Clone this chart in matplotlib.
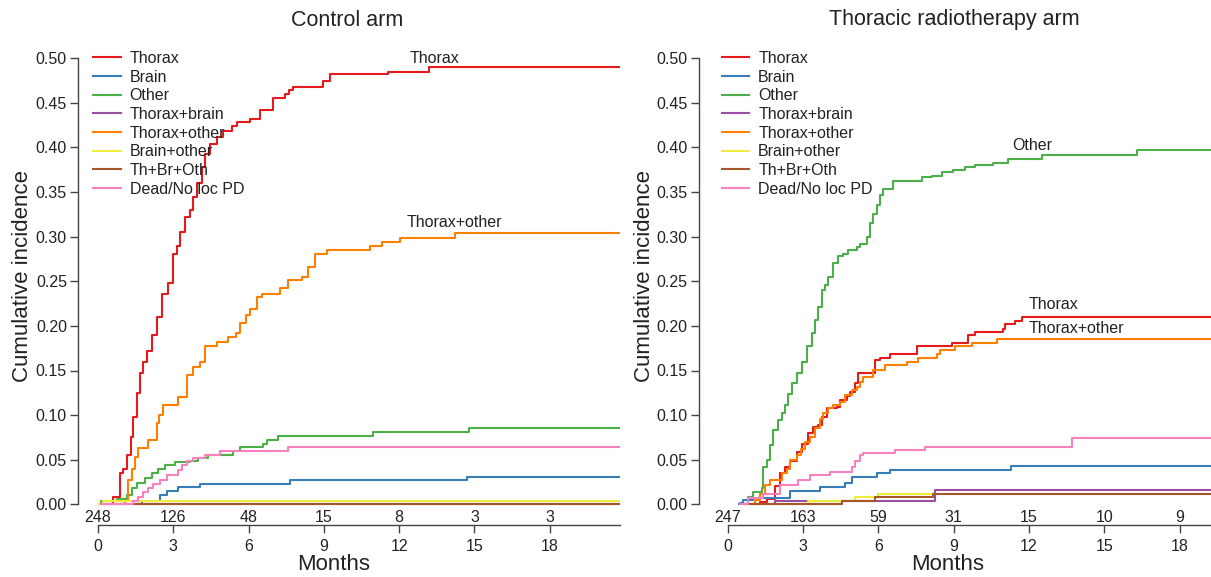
import numpy as np
import matplotlib
matplotlib.use('Agg')
import matplotlib.pyplot as plt

plt.rcParams['font.family'] = ['Liberation Sans', 'DejaVu Sans']

# ---- data (months, cumulative incidence) ----
groups = ['Thorax', 'Brain', 'Other', 'Thorax+brain', 'Thorax+other',
          'Brain+other', 'Th+Br+Oth', 'Dead/No loc PD']
colors = ['#E41A1C', '#377EB8', '#4DAF4A', '#984EA3', '#FF7F00',
          '#EDED3A', '#A65628', '#F781BF']

ctrl_end = 20.8
trt_end = 21.0

# control arm
c_thorax_t = [0.5, 0.6, 0.88, 1.0, 1.15, 1.3, 1.41, 1.55, 1.67, 1.8, 1.95, 2.14, 2.34, 2.54, 2.8, 3.0,
              3.15, 3.27, 3.47, 3.65, 3.8, 3.93, 4.13, 4.26, 4.46, 4.73, 4.99, 5.33, 5.53, 6.06, 6.45,
              6.98, 7.45, 7.6, 7.78, 8.98, 9.24, 11.57, 13.2]
c_thorax_v = [0.0, 0.008, 0.035, 0.04, 0.055, 0.075, 0.098, 0.125, 0.147, 0.16, 0.172, 0.19, 0.21,
              0.236, 0.248, 0.281, 0.29, 0.305, 0.322, 0.33, 0.344, 0.36, 0.378, 0.393, 0.404, 0.412,
              0.419, 0.424, 0.429, 0.432, 0.442, 0.455, 0.46, 0.464, 0.468, 0.475, 0.482, 0.485, 0.490]
c_brain_t = [1.6, 1.74, 2.47, 2.74, 3.2, 4.06, 7.65, 14.7]
c_brain_v = [0.0, 0.004, 0.010, 0.015, 0.019, 0.023, 0.027, 0.031]
c_other_t = [0.05, 0.1, 0.74, 1.14, 1.34, 1.54, 1.87, 2.14, 2.4, 2.67, 3.07, 3.67, 4.0, 4.39, 5.39,
             5.66, 6.59, 6.72, 7.18, 10.97, 14.8]
c_other_v = [0.0, 0.004, 0.006, 0.010, 0.018, 0.024, 0.029, 0.035, 0.040, 0.044, 0.047, 0.049, 0.052,
             0.055, 0.060, 0.064, 0.068, 0.0725, 0.0766, 0.081, 0.086]
c_thbr_t = [0.0]
c_thbr_v = [0.0]
c_thoth_t = [0.3, 1.08, 1.2, 1.35, 1.47, 1.61, 2.0, 2.34, 2.45, 2.6, 3.2, 3.53, 3.8, 4.06, 4.26, 4.73,
             5.19, 5.5, 5.66, 5.9, 6.06, 6.32, 6.52, 7.25, 7.58, 8.11, 8.38, 8.65, 9.11, 10.84, 11.3,
             12.03, 14.22]
c_thoth_v = [0.0, 0.004, 0.027, 0.04, 0.053, 0.063, 0.072, 0.091, 0.10, 0.111, 0.12, 0.145, 0.154, 0.16,
             0.178, 0.182, 0.188, 0.192, 0.203, 0.212, 0.219, 0.232, 0.236, 0.242, 0.251, 0.255, 0.266,
             0.281, 0.285, 0.290, 0.294, 0.298, 0.304]
c_broth_t = [0.05, 0.2]
c_broth_v = [0.0, 0.004]
c_thbroth_t = [1.38]
c_thbroth_v = [0.0]
c_dead_t = [0.1, 1.41, 1.6, 1.8, 2.0, 2.2, 2.47, 2.74, 3.2, 3.33, 3.53, 3.8, 4.26, 4.86, 7.58]
c_dead_v = [0.0, 0.004, 0.008, 0.014, 0.018, 0.023, 0.027, 0.0325, 0.038, 0.044, 0.049, 0.052, 0.055,
            0.060, 0.064]

# thoracic radiotherapy arm
t_thorax_t = [1.1, 1.3, 1.55, 1.88, 2.08, 2.28, 2.48, 2.75, 2.95, 3.21, 3.41, 3.61, 3.74, 3.94, 4.34,
              4.47, 4.74, 4.87, 5.07, 5.2, 5.87, 6.07, 6.47, 7.53, 8.92, 9.59, 9.85, 10.98, 11.05,
              11.45, 11.71]
t_thorax_v = [0.0, 0.003, 0.006, 0.020, 0.035, 0.042, 0.048, 0.059, 0.068, 0.080, 0.087, 0.089, 0.098,
              0.108, 0.109, 0.117, 0.121, 0.126, 0.136, 0.147, 0.162, 0.164, 0.1685, 0.1775, 0.181,
              0.190, 0.1935, 0.197, 0.2018, 0.2055, 0.210]
t_brain_t = [0.46, 0.5, 0.62, 1.02, 2.48, 3.68, 4.67, 4.94, 5.94, 6.47, 11.3]
t_brain_v = [0.0, 0.002, 0.0048, 0.0074, 0.0153, 0.019, 0.0235, 0.031, 0.0354, 0.0385, 0.0433]
t_other_t = [0.55, 0.82, 1.02, 1.35, 1.42, 1.55, 1.68, 1.82, 2.02, 2.15, 2.28, 2.41, 2.55, 2.75, 2.95,
             3.15, 3.35, 3.48, 3.61, 3.74, 3.88, 4.01, 4.21, 4.41, 4.61, 4.81, 5.14, 5.27, 5.54, 5.67,
             5.8, 5.94, 6.07, 6.2, 6.6, 7.73, 8.13, 8.53, 8.99, 9.45, 9.85, 10.58, 11.18, 12.53, 16.32]
t_other_v = [0.0, 0.0085, 0.014, 0.018, 0.042, 0.050, 0.066, 0.083, 0.094, 0.102, 0.111, 0.124, 0.136,
             0.147, 0.160, 0.177, 0.192, 0.207, 0.221, 0.240, 0.246, 0.255, 0.270, 0.278, 0.281, 0.285,
             0.289, 0.292, 0.300, 0.315, 0.326, 0.336, 0.347, 0.354, 0.362, 0.3665, 0.368, 0.372,
             0.375, 0.378, 0.3805, 0.383, 0.387, 0.392, 0.397]
t_thbr_t = [0.7, 1.88, 8.26]
t_thbr_v = [0.0, 0.004, 0.016]
t_thoth_t = [1.0, 1.1, 1.29, 1.49, 1.68, 2.15, 2.35, 2.48, 2.75, 2.9, 3.08, 3.28, 3.48, 3.68, 3.81, 4.01,
             4.21, 4.47, 4.67, 4.94, 5.14, 5.27, 5.4, 5.8, 6.27, 7.13, 7.59, 8.33, 8.46, 9.06, 9.72,
             10.72]
t_thoth_v = [0.0, 0.005, 0.012, 0.0217, 0.027, 0.035, 0.040, 0.050, 0.055, 0.062, 0.070, 0.076, 0.085,
             0.096, 0.102, 0.108, 0.111, 0.115, 0.1225, 0.128, 0.132, 0.137, 0.143, 0.151, 0.156, 0.160,
             0.164, 0.169, 0.173, 0.177, 0.1805, 0.185]
t_broth_t = [0.7, 3.2, 5.07, 6.0]
t_broth_v = [0.0, 0.004, 0.008, 0.012]
t_thbroth_t = [0.69, 4.54, 5.87, 8.19]
t_thbroth_v = [0.0, 0.004, 0.008, 0.012]
t_dead_t = [0.49, 0.82, 1.42, 2.08, 2.81, 3.28, 4.08, 4.94, 5.07, 5.27, 5.4, 6.67, 7.86, 13.7]
t_dead_v = [0.0, 0.007, 0.012, 0.0217, 0.027, 0.033, 0.0365, 0.042, 0.048, 0.055, 0.058, 0.061,
            0.0646, 0.0747]

risk_times = [0, 3, 6, 9, 12, 15, 18]
ctrl_risk = ['248', '126', '48', '15', '8', '3', '3']
trt_risk = ['247', '163', '59', '31', '15', '10', '9']

ctrl_series = [(c_thorax_t, c_thorax_v), (c_brain_t, c_brain_v), (c_other_t, c_other_v),
               (c_thbr_t, c_thbr_v), (c_thoth_t, c_thoth_v), (c_broth_t, c_broth_v),
               (c_thbroth_t, c_thbroth_v), (c_dead_t, c_dead_v)]
trt_series = [(t_thorax_t, t_thorax_v), (t_brain_t, t_brain_v), (t_other_t, t_other_v),
              (t_thbr_t, t_thbr_v), (t_thoth_t, t_thoth_v), (t_broth_t, t_broth_v),
              (t_thbroth_t, t_thbroth_v), (t_dead_t, t_dead_v)]

# ---- figure ----
W, H = 1211, 577
fig = plt.figure(figsize=(W / 100, H / 100), dpi=100)
txt = '#222222'
spc = '#444444'
fs = 11.5


def px_ax(x0, x1, ylo):
    # y: value 0 at 504.3px, 0.5 at 58.3px
    ppu = (504.3 - 58.3) / 0.5
    bot = 504.3 - ylo * ppu
    return fig.add_axes([x0 / W, (H - bot) / H, (x1 - x0) / W, (bot - 58.3) / H])


def draw(ax, series, end, risk, spine_out, legend_x):
    for (t, v), c, g in zip(series, colors, groups):
        ax.step(list(t) + [end], list(v) + [v[-1]], where='post', color=c, lw=1.5, label=g)
    ax.set_ylim(-0.004, 0.5)
    ax.set_yticks(np.arange(0, 0.51, 0.05))
    ax.set_yticklabels(['%.2f' % y for y in np.arange(0, 0.51, 0.05)])
    ax.set_xticks([0, 3, 6, 9, 12, 15, 18])
    for s in ['top', 'right']:
        ax.spines[s].set_visible(False)
    ax.spines['left'].set_bounds(0, 0.5)
    ax.spines['left'].set_position(('outward', spine_out))
    ax.spines['bottom'].set_position(('outward', 12.3))
    for s in ['left', 'bottom']:
        ax.spines[s].set_color(spc)
        ax.spines[s].set_linewidth(1.0)
    ax.tick_params(axis='x', direction='out', length=5.8, width=1.0, pad=4.0,
                   labelsize=fs, colors=spc, labelcolor=txt)
    ax.tick_params(axis='y', direction='out', length=5.5, width=1.0, pad=2.5,
                   labelsize=fs, colors=spc, labelcolor=txt)
    for t, n in zip(risk_times, risk):
        ax.annotate(n, xy=(t, 0), xycoords=('data', 'axes fraction'), xytext=(0, -6.6),
                    textcoords='offset points', ha='center', va='center', fontsize=fs,
                    color=txt, annotation_clip=False)
    ax.legend(loc='upper left', bbox_to_anchor=(legend_x / W, (H - 51) / H),
              bbox_transform=fig.transFigure, frameon=False, fontsize=fs,
              handlelength=1.75, handletextpad=0.55, labelspacing=0.23,
              borderpad=0, borderaxespad=0, labelcolor=txt)


ax1 = px_ax(98, 620, -0.004)
ax1.set_xlim(0, ctrl_end)
draw(ax1, ctrl_series, ctrl_end, ctrl_risk, 14.4, 93)
ax1.text(12.4, 0.50, 'Thorax', fontsize=fs, color=txt, ha='left', va='center')
ax1.text(12.3, 0.316, 'Thorax+other', fontsize=fs, color=txt, ha='left', va='center')

ax2 = px_ax(727.7, 1211, -0.004)
ax2.set_xlim(0, 19.25)
draw(ax2, trt_series, trt_end, trt_risk, 20.7, 721.5)
ax2.text(11.33, 0.402, 'Other', fontsize=fs, color=txt, ha='left', va='center')
ax2.text(12.0, 0.224, 'Thorax', fontsize=fs, color=txt, ha='left', va='center')
ax2.text(12.0, 0.197, 'Thorax+other', fontsize=fs, color=txt, ha='left', va='center')

# titles and axis labels
fig.text(347 / W, 1 - 20 / H, 'Control arm', fontsize=15.5, color=txt, ha='center', va='center')
fig.text(954 / W, 1 - 20 / H, 'Thoracic radiotherapy arm', fontsize=15.5, color=txt,
         ha='center', va='center')
fig.text(334 / W, 1 - 565 / H, 'Months', fontsize=16, color=txt, ha='center', va='center')
fig.text(948 / W, 1 - 565 / H, 'Months', fontsize=16, color=txt, ha='center', va='center')
fig.text(22.5 / W, 1 - 276 / H, 'Cumulative incidence', fontsize=16, color=txt,
         ha='center', va='center', rotation=90)
fig.text(645 / W, 1 - 276 / H, 'Cumulative incidence', fontsize=16, color=txt,
         ha='center', va='center', rotation=90)

fig.savefig('out.png', dpi=100)
